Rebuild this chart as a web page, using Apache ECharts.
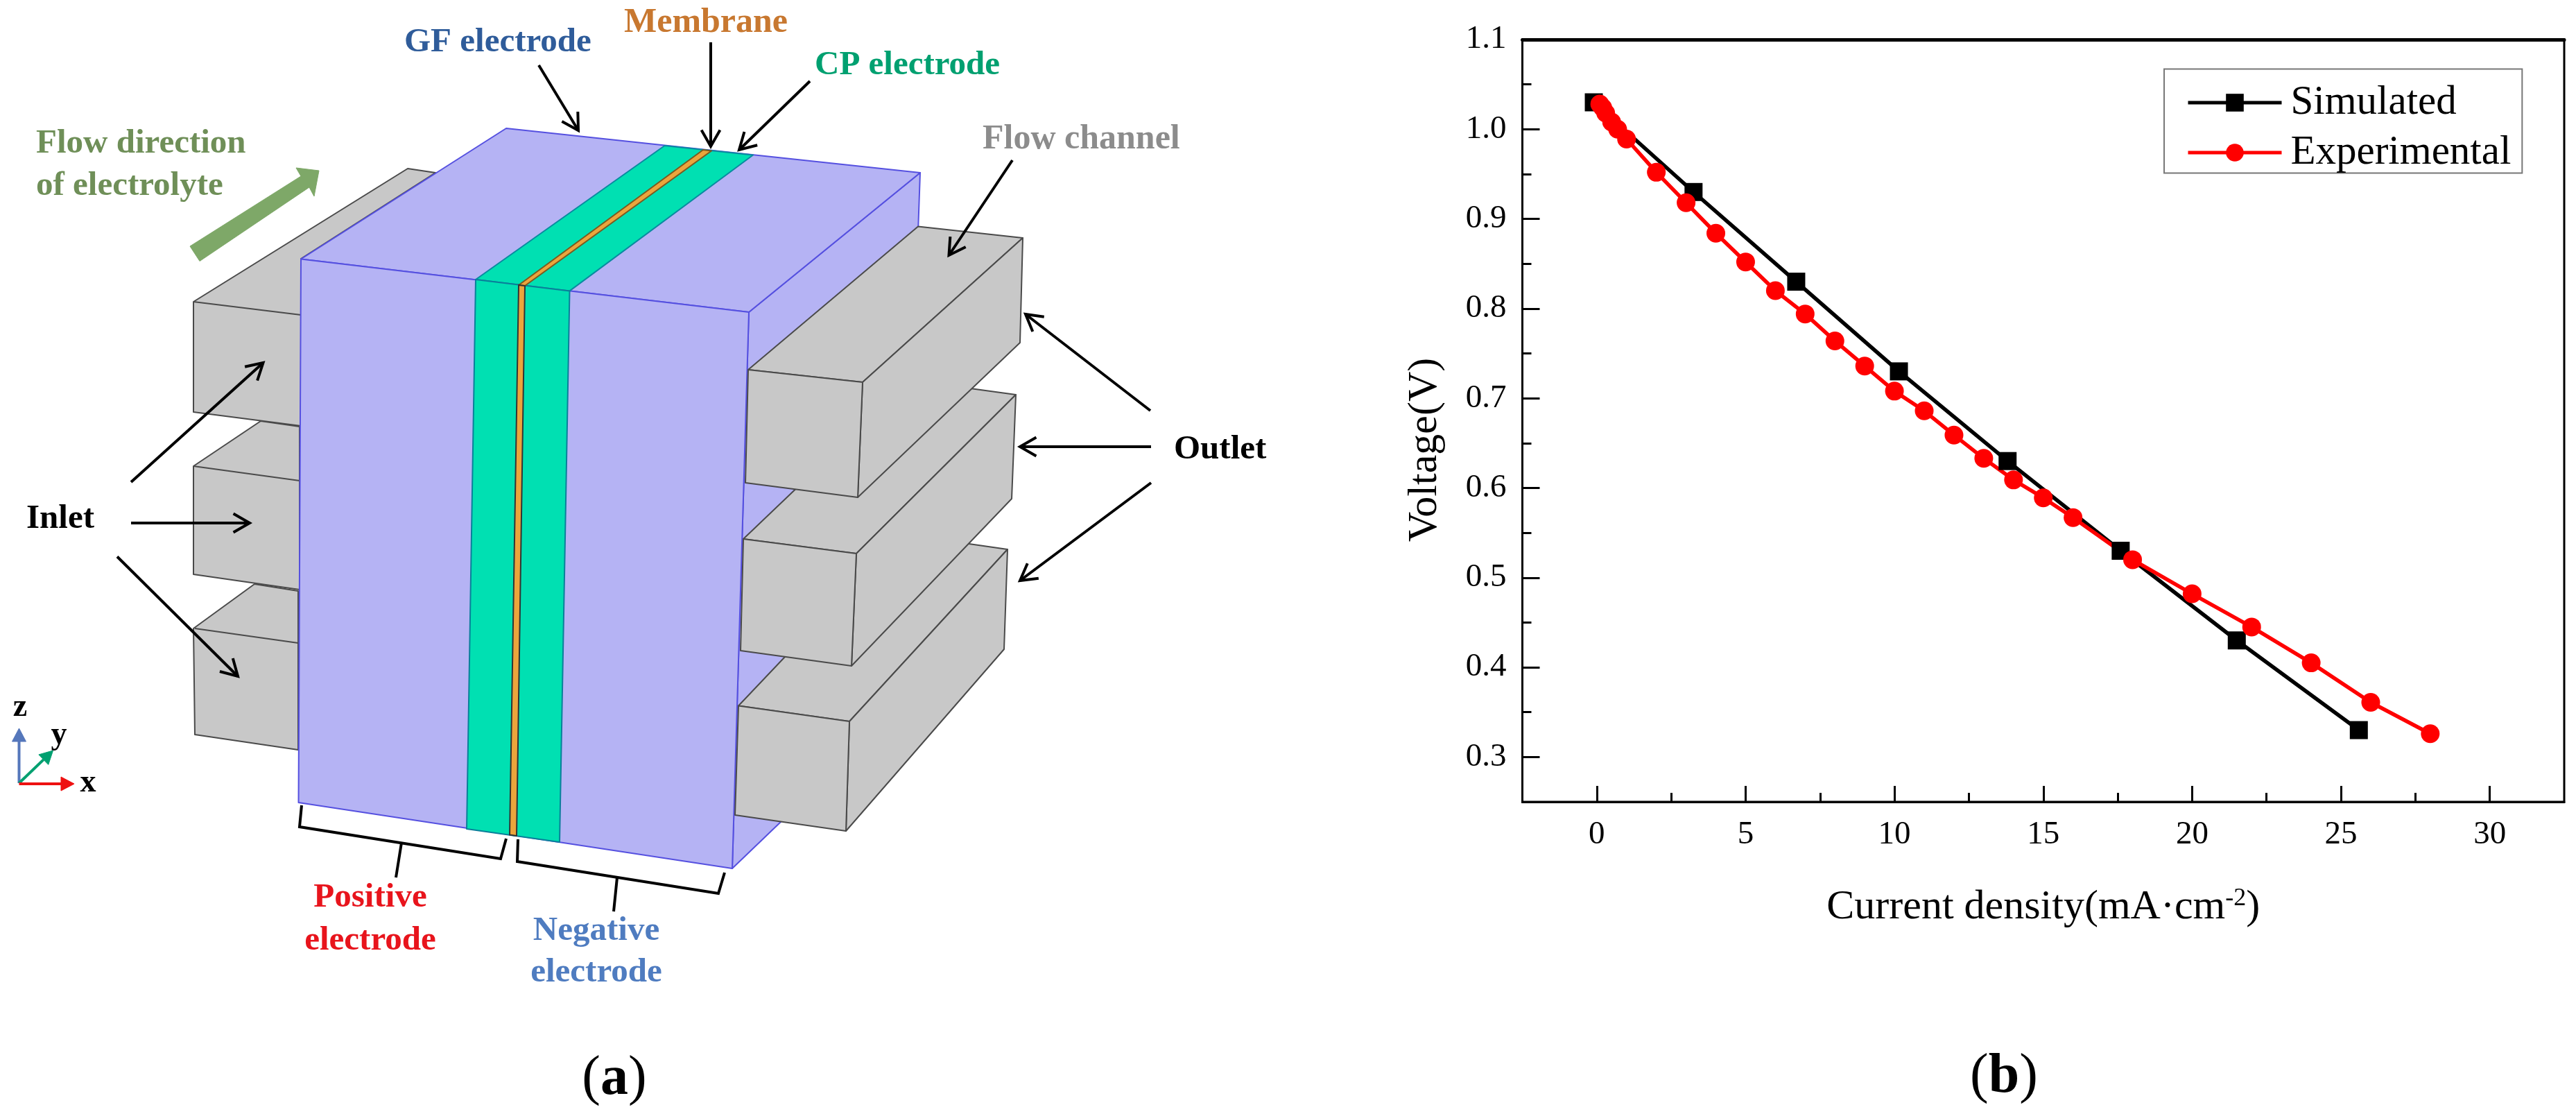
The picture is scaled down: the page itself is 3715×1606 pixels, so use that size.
<!DOCTYPE html>
<html>
<head>
<meta charset="utf-8">
<title>Flow cell schematic and polarization curve</title>
<script src="https://cdn.jsdelivr.net/npm/echarts@6/dist/echarts.min.js"></script>
<style>html,body{margin:0;padding:0;background:#fff}#c{width:3715px;height:1606px}</style>
</head>
<body>
<div id="c"></div>
<script>
// ---- chart data ----
const simulatedX = [-0.1, 3.25, 6.7, 10.15, 13.8, 17.6, 21.5, 25.6];
const simulatedY = [1.03, 0.93, 0.83, 0.73, 0.63, 0.53, 0.43, 0.33];
const experimentalX = [0.1, 0.2, 0.3, 0.5, 0.7, 1, 2, 3, 4, 5, 6, 7, 8, 9, 10, 11, 12, 13, 14, 15, 16, 18, 20, 22, 24, 26, 28];
const experimentalY = [1.028, 1.024, 1.018, 1.008, 1.0, 0.989, 0.952, 0.918, 0.884, 0.852, 0.82, 0.794, 0.764, 0.736, 0.708, 0.686, 0.659, 0.633, 0.609, 0.589, 0.567, 0.52, 0.482, 0.445, 0.405, 0.361, 0.326];
const xMajorTicks = [0, 5, 10, 15, 20, 25, 30];
const xMinorTicks = [2.5, 7.5, 12.5, 17.5, 22.5, 27.5];
const yMajorTicks = [0.3, 0.4, 0.5, 0.6, 0.7, 0.8, 0.9, 1.0, 1.1];
const yMinorTicks = [0.35, 0.45, 0.55, 0.65, 0.75, 0.85, 0.95, 1.05];
const seriesNames = ['Simulated', 'Experimental'];

const SERIF = '"Liberation Serif","Times New Roman",serif';

// ---- schematic helpers (panel a is an illustration, not data) ----
const PURPLE = '#B5B3F4', PEDGE = '#5550E0', GREEN = '#00E0B2', GRAY = '#C8C8C8', GEDGE = '#4a4a4a', ORANGE = '#EBA53C';
const face = (pts, fill, stroke, lw) => ({ type: 'polygon', shape: { points: pts }, style: { fill, stroke, lineWidth: lw || 2, lineJoin: 'round' } });
const gray = pts => face(pts, GRAY, GEDGE, 2);
const purple = pts => face(pts, PURPLE, PEDGE, 2);
const line = (pts, color, lw) => ({ type: 'polyline', shape: { points: pts }, style: { fill: null, stroke: color, lineWidth: lw || 4, lineJoin: 'miter', lineCap: 'butt' } });
function arrow(x1, y1, x2, y2, color, lw, head) {
  const a = Math.atan2(y2 - y1, x2 - x1), h = head || 27, s = 0.52;
  return [
    line([[x1, y1], [x2, y2]], color || '#000', lw || 4),
    line([[x2 - h * Math.cos(a - s), y2 - h * Math.sin(a - s)], [x2, y2], [x2 - h * Math.cos(a + s), y2 - h * Math.sin(a + s)]], color || '#000', lw || 4)
  ];
}
function solidArrow(x1, y1, x2, y2, color) {
  const a = Math.atan2(y2 - y1, x2 - x1), h = 19, w = 10;
  const bx = x2 - h * Math.cos(a), by = y2 - h * Math.sin(a), nx = -Math.sin(a), ny = Math.cos(a);
  return [
    line([[x1, y1], [bx, by]], color, 4),
    face([[x2, y2], [bx + nx * w, by + ny * w], [bx - nx * w, by - ny * w]], color, color, 1)
  ];
}
const label = (t, x, y, color, size, align, weight) => ({
  type: 'text', style: { text: t, x, y: y + 3, fill: color, font: (weight || 'bold') + ' ' + size + 'px ' + SERIF, textAlign: align || 'left', textVerticalAlign: 'middle' }
});

const schematic = [
  // left channels
  gray([[279, 906], [367, 842], [430, 852], [430, 1081], [281, 1059]]),
  line([[281, 906], [430, 927]], GEDGE, 2),
  gray([[279, 672], [376, 607], [432, 615], [432, 850], [279, 828]]),
  line([[279, 672], [432, 693]], GEDGE, 2),
  gray([[279, 435], [588, 243], [628, 249], [434, 373], [434, 614], [279, 594]]),
  line([[279, 435], [434, 454]], GEDGE, 2),
  // main block: side, top, front
  purple([[1080, 450], [1327, 249], [1300, 1018], [1056, 1252]]),
  purple([[730, 185], [1327, 249], [1080, 450], [434, 373.5]]),
  purple([[434, 373.5], [1080, 450], [1056, 1252], [430.5, 1157]]),
  // electrode bands
  face([[686, 403], [958.5, 210], [1086, 223.5], [821.5, 419.4]], GREEN, '#0A8AA0', 2),
  face([[686, 403], [821.5, 419.4], [807, 1214], [673, 1195]], GREEN, '#0A7F9A', 2),
  face([[748, 411], [1014, 216], [1026, 217.5], [757, 412]], ORANGE, '#7a5a20', 2),
  face([[748, 411], [757, 412], [745, 1205], [735, 1203.6]], ORANGE, '#333', 2),
  // right channels, back to front
  gray([[1065, 1017.5], [1225, 1040], [1453, 792], [1300, 770]]),
  gray([[1225, 1040], [1453, 792], [1448, 936], [1220, 1198]]),
  gray([[1065, 1017.5], [1225, 1040], [1220, 1198], [1060, 1175]]),
  gray([[1072, 777], [1235, 798], [1465, 569], [1312, 548]]),
  gray([[1235, 798], [1465, 569], [1459, 719], [1228, 960]]),
  gray([[1072, 777], [1235, 798], [1228, 960], [1068, 938]]),
  gray([[1079, 533], [1244, 551], [1475, 343], [1324, 326.5]]),
  gray([[1244, 551], [1475, 343], [1471, 494], [1237, 717]]),
  gray([[1079, 533], [1244, 551], [1237, 717], [1075, 696]]),
  // flow direction arrow
  face([[274, 355], [434, 254], [427, 242], [460, 246], [453, 283], [446, 270], [288, 376.5]], '#7EA868', '#7EA868', 1),
  // leader arrows
  ...arrow(777, 94, 834, 188),
  ...arrow(1025, 61, 1025, 211),
  ...arrow(1168, 117, 1066, 216),
  ...arrow(1460, 231, 1368.5, 368),
  ...arrow(1659, 592, 1479, 453),
  ...arrow(1660, 644, 1471, 644),
  ...arrow(1660, 696, 1471, 837),
  ...arrow(189, 695, 379.5, 523),
  ...arrow(189, 754, 360, 754),
  ...arrow(169, 802.5, 343, 975),
  // braces
  line([[435, 1161], [432, 1192], [722, 1238], [730, 1209]], '#000', 4),
  line([[579, 1215], [571, 1265]], '#000', 4),
  line([[747, 1210], [746, 1242], [1036, 1288], [1045, 1258]], '#000', 4),
  line([[890, 1265], [885, 1314]], '#000', 4),
  // coordinate triad
  ...solidArrow(27.5, 1129, 27.5, 1050, '#5577BB'),
  ...solidArrow(27.5, 1129, 76.5, 1082, '#00A070'),
  ...solidArrow(27.5, 1130, 107, 1130, '#EE1111'),
  label('z', 29, 1017, '#000', 46, 'center'),
  label('y', 85, 1057, '#000', 46, 'center'),
  label('x', 127, 1126, '#000', 46, 'center'),
  // labels
  label('GF electrode', 583, 58, '#2F5C9A', 49),
  label('Membrane', 900, 30, '#C87830', 50),
  label('CP electrode', 1175, 91, '#00A070', 49),
  label('Flow channel', 1417, 198, '#8C8C8C', 50),
  label('Flow direction', 52, 204, '#6F8F58', 49),
  label('of electrolyte', 52, 265, '#6F8F58', 49),
  label('Inlet', 38, 745, '#000', 49),
  label('Outlet', 1693, 645, '#000', 49),
  label('Positive', 534, 1291, '#E8141C', 49, 'center'),
  label('electrode', 534, 1353, '#E8141C', 49, 'center'),
  label('Negative', 860, 1339, '#4F7CC0', 49, 'center'),
  label('electrode', 860, 1399, '#4F7CC0', 49, 'center'),
  // panel captions
  { type: 'text', style: { x: 886, y: 1556, textAlign: 'center', textVerticalAlign: 'middle', text: '{r|(}{b|a}{r|)}', rich: { r: { font: '80px ' + SERIF, fill: '#000' }, b: { font: 'bold 80px ' + SERIF, fill: '#000' } } } },
  { type: 'text', style: { x: 2890, y: 1553, textAlign: 'center', textVerticalAlign: 'middle', text: '{r|(}{b|b}{r|)}', rich: { r: { font: '80px ' + SERIF, fill: '#000' }, b: { font: 'bold 80px ' + SERIF, fill: '#000' } } } }
];

const axisLineStyle = { color: '#000', width: 3 };
const tickFont = { fontFamily: SERIF, fontSize: 47, color: '#000' };
const xRange = { type: 'value', min: -2.5, max: 32.5, splitLine: { show: false }, position: 'bottom' };
const yRange = { type: 'value', min: 0.25, max: 1.1, splitLine: { show: false }, position: 'left' };

const option = {
  backgroundColor: '#fff',
  animation: false,
  grid: { left: 2195.5, width: 1502.5, top: 57, height: 1099, show: true, borderColor: '#000', borderWidth: 3, backgroundColor: 'transparent' },
  legend: {
    orient: 'vertical', left: 3121, top: 99.5,
    data: seriesNames,
    padding: [19, 16, 0, 32], itemGap: 13, itemWidth: 135, itemHeight: 32,
    borderColor: '#777', borderWidth: 2, backgroundColor: '#fff',
    lineStyle: { width: 5 },
    textStyle: { fontFamily: SERIF, fontSize: 59, color: '#000', padding: [0, 0, 0, 8] }
  },
  xAxis: [
    Object.assign({}, xRange, {
      name: '{a|Current density(mA·cm}{s|-2}{a|)}',
      nameLocation: 'middle', nameGap: 122,
      nameTextStyle: { rich: { a: { fontFamily: SERIF, fontSize: 60, color: '#000' }, s: { fontFamily: SERIF, fontSize: 36, color: '#000', verticalAlign: 'top', padding: [0, 0, 18, 0] } } },
      axisLine: { show: true, onZero: false, lineStyle: axisLineStyle },
      axisTick: { show: true, inside: true, length: 23, lineStyle: { color: '#000', width: 3 }, customValues: xMajorTicks },
      axisLabel: Object.assign({ show: true, margin: 24, customValues: xMajorTicks, formatter: v => String(v) }, tickFont)
    }),
    Object.assign({}, xRange, {
      axisLine: { show: false, onZero: false },
      axisTick: { show: true, inside: true, length: 13, lineStyle: { color: '#000', width: 3 }, customValues: xMinorTicks },
      axisLabel: { show: false }
    }),
    Object.assign({}, xRange, {
      position: 'top',
      axisLine: { show: true, onZero: false, lineStyle: { color: '#000', width: 5 } },
      axisTick: { show: false },
      axisLabel: { show: false }
    })
  ],
  yAxis: [
    Object.assign({}, yRange, {
      name: 'Voltage(V)',
      nameLocation: 'middle', nameGap: 110,
      nameTextStyle: { fontFamily: SERIF, fontSize: 60, color: '#000', padding: [0, 84, 0, 0] },
      axisLine: { show: true, onZero: false, lineStyle: axisLineStyle },
      axisTick: { show: true, inside: true, length: 25, lineStyle: { color: '#000', width: 3 }, customValues: yMajorTicks },
      axisLabel: Object.assign({ show: true, margin: 23, customValues: yMajorTicks, formatter: v => Number(v).toFixed(1) }, tickFont)
    }),
    Object.assign({}, yRange, {
      axisLine: { show: false, onZero: false },
      axisTick: { show: true, inside: true, length: 13, lineStyle: { color: '#000', width: 3 }, customValues: yMinorTicks },
      axisLabel: { show: false }
    })
  ],
  series: [
    {
      name: seriesNames[0], type: 'line', symbol: 'rect', symbolSize: 26, showSymbol: true,
      data: simulatedX.map((x, i) => [x, simulatedY[i]]),
      itemStyle: { color: '#000' }, lineStyle: { color: '#000', width: 5.5 }
    },
    {
      name: seriesNames[1], type: 'line', symbol: 'circle', symbolSize: 27, showSymbol: true,
      data: experimentalX.map((x, i) => [x, experimentalY[i]]),
      itemStyle: { color: '#FF0000' }, lineStyle: { color: '#FF0000', width: 5.5 }
    }
  ],
  graphic: { elements: schematic }
};

const chart = echarts.init(document.getElementById('c'), null, { renderer: 'canvas' });
chart.setOption(option);
</script>
</body>
</html>
